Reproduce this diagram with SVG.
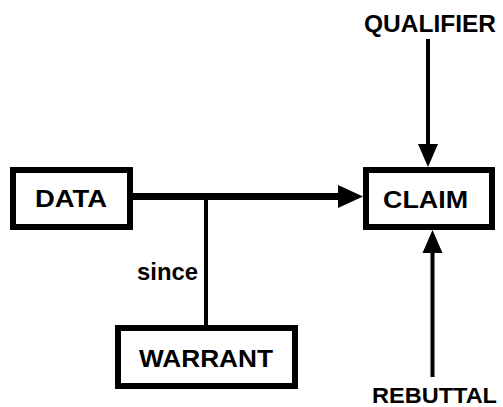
<svg xmlns="http://www.w3.org/2000/svg" width="503" height="407" viewBox="0 0 503 407">
<style>
.box{fill:#fff;stroke:#000;stroke-width:6}
.t{font-family:"Liberation Sans",Arial,sans-serif;font-weight:bold;font-size:24px;fill:#000}
.ln{stroke:#000;fill:none}
.ah{fill:#000}
</style>
<rect width="503" height="407" fill="#fff"/>
<g id="connectors">
<line class="ln" x1="133" y1="196.5" x2="340" y2="196.5" stroke-width="7"/>
<polygon class="ah" points="338,185 363,196.5 338,208"/>
<line class="ln" x1="206" y1="196" x2="206" y2="325" stroke-width="4"/>
<line class="ln" x1="428" y1="39" x2="428" y2="146" stroke-width="4"/>
<polygon class="ah" points="418,144 438,144 428,167"/>
<line class="ln" x1="432.5" y1="377" x2="432.5" y2="251" stroke-width="4"/>
<polygon class="ah" points="422.5,253 442.5,253 432.5,230"/>
<text class="t" x="137" y="280" textLength="61" lengthAdjust="spacingAndGlyphs">since</text>
</g>
<g id="data">
<rect class="box" x="13" y="170" width="117" height="57"/>
<text class="t" x="35" y="207" textLength="72" lengthAdjust="spacingAndGlyphs">DATA</text>
</g>
<g id="claim">
<rect class="box" x="366" y="170" width="126" height="57"/>
<text class="t" x="383" y="208" textLength="85" lengthAdjust="spacingAndGlyphs">CLAIM</text>
</g>
<g id="warrant">
<rect class="box" x="118" y="328" width="177" height="58"/>
<text class="t" x="139" y="367" textLength="134" lengthAdjust="spacingAndGlyphs">WARRANT</text>
</g>
<g id="qualifier">
<text class="t" x="364" y="32" textLength="132" lengthAdjust="spacingAndGlyphs">QUALIFIER</text>
</g>
<g id="rebuttal">
<text class="t" x="372" y="403" font-size="22" textLength="125" lengthAdjust="spacingAndGlyphs" style="font-size:22px">REBUTTAL</text>
</g>
</svg>
